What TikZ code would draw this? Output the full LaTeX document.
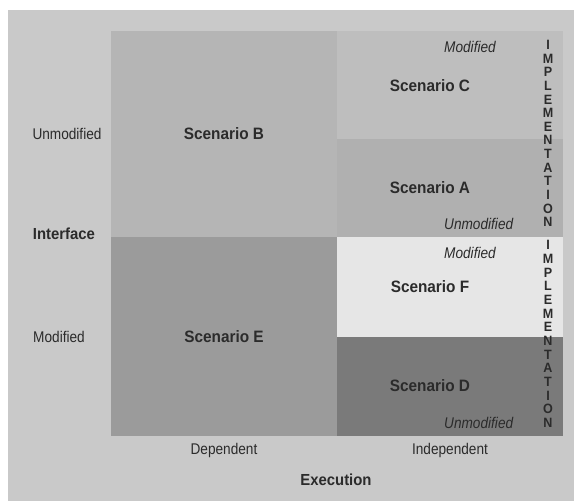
\documentclass[tikz,border=0pt]{standalone}
\usepackage{fontspec}
\setmainfont{Liberation Sans}[FakeStretch=0.88, BoldFeatures={FakeStretch=0.93}]

\definecolor{bgGray}{HTML}{C9C9C9}
\definecolor{cellB}{HTML}{B5B5B5}
\definecolor{cellC}{HTML}{BEBEBE}
\definecolor{cellA}{HTML}{B0B0B0}
\definecolor{cellE}{HTML}{9B9B9B}
\definecolor{cellF}{HTML}{E6E6E6}
\definecolor{cellD}{HTML}{7A7A7A}
\definecolor{inkGray}{HTML}{2B2B2B}

\begin{document}
\begin{tikzpicture}[x=1pt, y=-1pt,
    every node/.style={text=inkGray, inner sep=0pt},
    axislabel/.style={font=\fontsize{15.5}{18}\selectfont},
    axistitle/.style={font=\bfseries\fontsize{16}{18}\selectfont},
    scenario/.style={font=\bfseries\fontsize{16.5}{18}\selectfont},
    sublabel/.style={font=\itshape\fontsize{15.5}{18}\selectfont, anchor=west},
    letterstack/.style={font=\bfseries\fontsize{13.5}{13.65}\selectfont, align=center}]

    % --- Canvas and background ---
    \useasboundingbox (0,0) rectangle (574,501);
    \fill[bgGray] (8,10) rectangle (574,501);

    % --- Cells of the matrix ---
    % Dependent column
    \fill[cellB] (110.5,31) rectangle (336.7,237);
    \fill[cellE] (110.5,237) rectangle (336.7,436);
    % Independent column, split by implementation
    \fill[cellC] (336.7,31) rectangle (563,139);
    \fill[cellA] (336.7,139) rectangle (563,237);
    \fill[cellF] (336.7,237) rectangle (563,337);
    \fill[cellD] (336.7,337) rectangle (563,436);

    % --- Scenario names ---
    \node[scenario] (scenB) at (224,134) {Scenario B};
    \node[scenario] (scenE) at (224,337) {Scenario E};
    \node[scenario] (scenC) at (430,86) {Scenario C};
    \node[scenario] (scenA) at (430,188) {Scenario A};
    \node[scenario] (scenF) at (430,287) {Scenario F};
    \node[scenario] (scenD) at (430,386) {Scenario D};

    % --- Implementation labels inside the right column ---
    \node[sublabel] (implModTop) at (444,47) {Modified};
    \node[sublabel] (implUnmodTop) at (444,224) {Unmodified};
    \node[sublabel] (implModBot) at (444,253) {Modified};
    \node[sublabel] (implUnmodBot) at (444,423) {Unmodified};
    \node[letterstack] (implTop) at (548,133.5)
        {I\\M\\P\\L\\E\\M\\E\\N\\T\\A\\T\\I\\O\\N};
    \node[letterstack] (implBot) at (548,334)
        {I\\M\\P\\L\\E\\M\\E\\N\\T\\A\\T\\I\\O\\N};

    % --- Interface axis (left) ---
    \node[axislabel] (ifUnmod) at (67,134) {Unmodified};
    \node[axistitle] (ifTitle) at (64,234) {Interface};
    \node[axislabel] (ifMod) at (59,337) {Modified};

    % --- Execution axis (bottom) ---
    \node[axislabel] (exDep) at (224,450) {Dependent};
    \node[axislabel] (exIndep) at (450,450) {Independent};
    \node[axistitle] (exTitle) at (336,480) {Execution};

\end{tikzpicture}
\end{document}
